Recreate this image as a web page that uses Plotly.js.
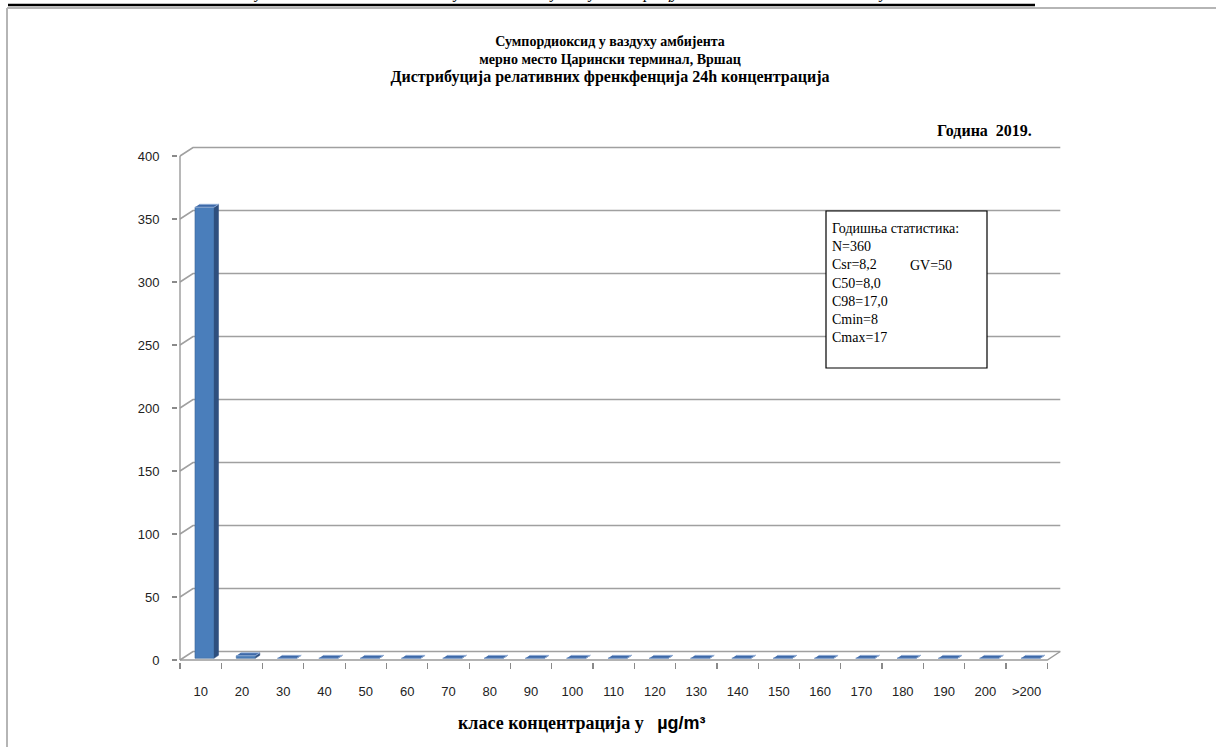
<!DOCTYPE html>
<html>
<head>
<meta charset="utf-8">
<script src="https://cdn.plot.ly/plotly-3.0.1.min.js"></script>
<style>html,body{margin:0;padding:0;background:#fff;}#chart{width:1216px;height:747px;}</style>
</head>
<body>
<div id="chart"></div>
<script>
// ---------- data ----------
const classes = ['10','20','30','40','50','60','70','80','90','100','110','120','130','140','150','160','170','180','190','200','>200'];
const counts  = [358, 2, 0, 0, 0, 0, 0, 0, 0, 0, 0, 0, 0, 0, 0, 0, 0, 0, 0, 0, 0];
const yTicks  = [0, 50, 100, 150, 200, 250, 300, 350, 400];
const titleLines = ['Сумпордиоксид у ваздуху амбијента', 'мерно место Царински терминал, Вршац', 'Дистрибуција релативних френкфенција 24h концентрација'];
const yearLabel = 'Година  2019.';
const statsLines = ['Годишња статистика:', 'N=360', 'Csr=8,2', 'C50=8,0', 'C98=17,0', 'Cmin=8', 'Cmax=17'];
const gvLabel = 'GV=50';
const xTitle = 'класе концентрација у';
const xUnit = 'µg/m³';
const headerWords = ['ЗЈЗ Панчево', 'Резултати', 'о', 'квалитету', 'ваздуха', 'у', 'Вршцу', 'за', '2019. годину'];

// ---------- geometry (pixels) ----------
const L = 178, R = 1064, T = 146, B = 662;
const X0PX = 180, Y0PX = 660;          // front-left corner of the floor
const CAT_PX = 41.3, Y_PX = 1.26;       // px per category / per unit
const n = classes.length;
const xRange = [-0.5 - (X0PX - L) / CAT_PX, -0.5 + (R - X0PX) / CAT_PX];
const yRange = [-(B - Y0PX) / Y_PX, (Y0PX - T) / Y_PX];
const DX = 13 / CAT_PX, DY = 8.5 / Y_PX; // depth of the 3D floor
const FX0 = -0.2, FX1 = 0.26;            // bar front face relative to category
const D1 = 0.2, D2 = 0.55;               // bar depth fractions
const px = x => (x - L) / (R - L);
const py = y => (B - y) / (B - T);

// ---------- walls & grid ----------
const gx = [], gy = [];
yTicks.forEach(v => { gx.push(-0.5, -0.5 + DX, n - 0.5 + DX, null); gy.push(v, v + DY, v + DY, null); });
const grid = {x: gx, y: gy, mode: 'lines', line: {color: '#a0a0a0', width: 1.6}, hoverinfo: 'skip', showlegend: false, xaxis: 'x', yaxis: 'y'};
const frame = {
  x: [-0.5, -0.5, null, -0.5, n - 0.5, n - 0.5 + DX],
  y: [yTicks[yTicks.length - 1], 0, null, 0, 0, DY],
  mode: 'lines', line: {color: '#9a9a9a', width: 1.4}, hoverinfo: 'skip', showlegend: false, xaxis: 'x', yaxis: 'y'
};

// ---------- 3D bars ----------
const sx = [], sy = [], tx = [], ty = [];
counts.forEach((v, i) => {
  const a = i + FX0, b = i + FX1;
  const x1 = D1 * DX, y1 = D1 * DY, x2 = D2 * DX, y2 = D2 * DY;
  sx.push(b + x1, b + x2, b + x2, b + x1, null);
  sy.push(y1, y2, v + y2, v + y1, null);
  tx.push(a + x1, b + x1, b + x2, a + x2, null);
  ty.push(v + y1, v + y1, v + y2, v + y2, null);
});
const barFront = {
  type: 'bar', x: counts.map((v, i) => i + (FX0 + FX1) / 2 + D1 * DX), y: counts,
  base: counts.map(() => D1 * DY), width: FX1 - FX0,
  marker: {color: '#4A7EBB', line: {color: '#3C6698', width: 0.6}},
  hoverinfo: 'skip', showlegend: false, xaxis: 'x2', yaxis: 'y2'
};
const sides = {x: sx, y: sy, mode: 'lines', fill: 'toself', fillcolor: '#2E4F7E', line: {color: '#2E4F7E', width: 0.5}, hoverinfo: 'skip', showlegend: false, xaxis: 'x2', yaxis: 'y2'};
const tops = {x: tx, y: ty, mode: 'lines', fill: 'toself', fillcolor: '#3D69A8', line: {color: '#9DB8DE', width: 0.8}, hoverinfo: 'skip', showlegend: false, xaxis: 'x2', yaxis: 'y2'};

// ---------- annotations ----------
const serif = 'Liberation Serif, Times New Roman, serif';
const sans = 'Liberation Sans, Arial, sans-serif';
const ann = [];
ann.push({xref: 'paper', yref: 'paper', x: px(1034), y: py(131), xanchor: 'right', yanchor: 'middle', text: '<b>' + yearLabel + '</b>', showarrow: false, font: {family: serif, size: 16, color: '#000'}});
ann.push({xref: 'paper', yref: 'paper', x: px(830), y: py(219), xanchor: 'left', yanchor: 'top', align: 'left', text: statsLines.join('<br>'), showarrow: false, font: {family: serif, size: 14, color: '#000'}});
ann.push({xref: 'paper', yref: 'paper', x: px(908), y: py(265), xanchor: 'left', yanchor: 'middle', text: gvLabel, showarrow: false, font: {family: serif, size: 14, color: '#000'}});
ann.push({xref: 'paper', yref: 'paper', x: px(582), y: py(723), xanchor: 'center', yanchor: 'middle', showarrow: false,
  text: '<b>' + xTitle + '   <span style="font-family:Liberation Sans, Arial, sans-serif">' + xUnit + '</span></b>', font: {family: serif, size: 18, color: '#000'}});
const headerX = [8, 230, 348, 385, 520, 585, 632, 735, 800];
headerWords.forEach((w, i) => ann.push({xref: 'paper', yref: 'paper', x: px(headerX[i]), y: py(4), xanchor: 'left', yanchor: 'bottom', showarrow: false,
  text: '<i>' + w + '</i>', font: {family: serif, size: 16, color: '#000'}}));

// ---------- shapes ----------
const shapes = [
  {type: 'rect', xref: 'paper', yref: 'paper', x0: px(826), x1: px(987), y0: py(368), y1: py(211), line: {color: '#000', width: 1.2}, fillcolor: 'rgba(255,255,255,1)', layer: 'above'},
  {type: 'line', xref: 'paper', yref: 'paper', x0: px(8), x1: px(1035), y0: py(5), y1: py(5), line: {color: '#000', width: 2.5}},
  {type: 'line', xref: 'paper', yref: 'paper', x0: px(7), x1: px(7), y0: py(8), y1: py(760), line: {color: '#b5b5b5', width: 2}},
  {type: 'line', xref: 'paper', yref: 'paper', x0: px(7), x1: px(1230), y0: py(8), y1: py(8), line: {color: '#b5b5b5', width: 2}}
];

const titleText = '<b>' + titleLines[0] + '</b><br><b>' + titleLines[1] + '</b><br><span style="font-size:16px"><b>' + titleLines[2] + '</b></span>';

const layout = {
  width: 1216, height: 747,
  margin: {l: L, r: 1216 - R, t: T, b: 747 - B, pad: 0},
  paper_bgcolor: '#fff', plot_bgcolor: 'rgba(0,0,0,0)',
  showlegend: false,
  title: {text: titleText, xref: 'container', yref: 'container', x: 610 / 1216, xanchor: 'center', y: 1 - 46 / 747, yanchor: 'top', font: {family: serif, size: 14, color: '#000'}},
  xaxis: {range: xRange, tickmode: 'array', tickvals: classes.map((c, i) => i), ticktext: classes, ticks: '', showgrid: false, zeroline: false, showline: false,
    ticklabelstandoff: 20, tickfont: {family: sans, size: 13, color: '#222'},
    minor: {tickmode: 'array', tickvals: classes.map((c, i) => i - 0.5).concat([n - 0.5]), ticks: 'outside', ticklen: 6, tickwidth: 1.2, tickcolor: '#8a8a8a', showgrid: false}},
  yaxis: {range: yRange, tickmode: 'array', tickvals: yTicks, ticktext: yTicks.map(String), ticks: 'outside', ticklen: 5, tickwidth: 1.2, tickcolor: '#8a8a8a',
    showgrid: false, zeroline: false, showline: false, ticklabelstandoff: 10, tickfont: {family: sans, size: 13, color: '#222'}},
  xaxis2: {range: xRange, overlaying: 'x', visible: false, anchor: 'y2'},
  yaxis2: {range: yRange, overlaying: 'y', visible: false, anchor: 'x2'},
  annotations: ann,
  shapes: shapes
};

Plotly.newPlot('chart', [grid, frame, barFront, sides, tops], layout, {displayModeBar: false, staticPlot: true});
</script>
</body>
</html>
